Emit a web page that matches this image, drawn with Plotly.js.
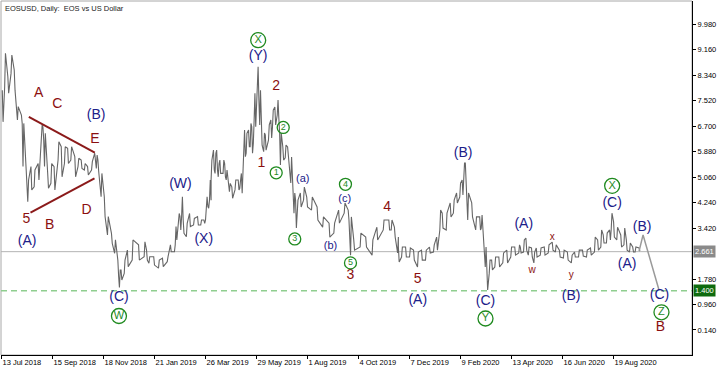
<!DOCTYPE html>
<html><head><meta charset="utf-8">
<script src="https://cdn.plot.ly/plotly-3.0.1.min.js"></script>
<style>html,body{margin:0;padding:0;background:#fff}#chart{width:720px;height:368px}</style>
</head><body><div id="chart"></div>
<script>
// ---- data (day = days since 13 Jul 2018) ----
const startDate = Date.UTC(2018, 6, 13);
const sampleDay = [1,4,8,12,16,20,25,27,31,33,37,41,46,50,52,54,58,62,66,71,75,79,83,87,92,96,100,104,108,113,117,119,121,125,129,133,138,142,146,148,150,154,158,
164,172,179,182,185,191,197,202,208,212,217,219,222,224,226,228,232,236,241,246,250,254,256,258,260,262,263,266,268,270,272,274,278,280,282,284,286,289,293,297,299,301,303,305,307,310,312,314,316,318,320,322,
324,326,329,331,335,338,340,343,346,348,350,353,356,359,363,365,367,369,371,375,379,383,389,396,403,411,417,423,430,435,438,442,450,457,465,471,479,486,
489,493,497,498,502,507,512,517,522,527,532,537,542,546,550,553,558,563,567,571,575,578,580,582,585,590,595,600,602,605,607,609,612,615,619,624,629,634,639,644,649,
651,655,658,661,665,668,671,676,681,686,691,695,700,705,710,715,719,724,729,734,739,744,748,752,755,759,763,765,768,772,777,781,784,788,792,795,800];
const sampleHigh = [7.86,9.05,8.29,8.99,8.51,7.33,7.06,6.79,5.29,4.97,5.40,5.29,5.50,6.74,6.68,6.47,5.18,5.50,5.40,6.20,6.04,6.04,5.99,6.04,5.72,5.67,5.61,5.50,5.40,5.56,5.83,5.77,5.61,5.18,4.43,3.79,3.25,3.04,2.39,2.07,2.07,2.39,2.71,
3.04,2.88,2.98,2.71,2.50,2.50,2.39,2.45,2.50,2.88,2.88,3.47,3.89,3.79,4.43,3.68,3.57,3.89,3.73,3.79,3.68,3.68,4.11,4.43,4.32,4.97,5.61,5.93,5.83,5.93,5.50,5.61,5.61,5.50,5.29,5.07,4.86,4.75,4.97,4.97,4.97,5.18,5.83,6.58,6.47,6.58,6.79,6.68,6.90,7.76,8.19,8.61,
7.86,6.90,6.48,6.42,6.74,6.90,7.22,7.32,7.54,6.96,6.48,6.03,6.09,6.03,5.71,4.87,4.55,4.32,4.32,4.55,4.74,4.42,4.42,4.10,3.78,3.58,3.58,4.00,4.23,4.00,3.78,3.04,3.26,3.13,3.04,3.45,3.68,3.68,
3.68,3.45,3.13,2.81,2.81,2.81,2.78,2.71,2.65,2.71,2.71,2.81,2.88,3.13,4.00,3.90,3.90,4.23,4.32,4.55,4.87,4.97,5.51,5.51,4.55,4.23,3.78,3.78,3.84,3.13,2.81,2.30,2.39,2.39,2.49,2.49,2.62,2.71,2.81,2.81,2.88,
2.81,3.04,3.10,2.81,2.78,2.65,2.78,2.78,2.81,2.88,2.97,2.88,2.71,2.71,2.65,2.55,2.65,2.71,2.71,2.71,2.78,3.13,3.04,3.36,3.20,3.26,3.36,3.90,3.62,3.45,3.20,3.42,3.04,2.94,2.81,2.81,2.78];
const sampleLow = [6.84,7.97,7.76,8.40,7.86,6.90,6.79,5.40,4.65,4.27,4.65,4.75,4.97,6.25,6.25,5.40,4.70,4.86,4.65,5.61,5.07,5.50,5.50,5.61,5.07,5.40,5.34,5.29,5.13,5.29,5.50,5.34,5.24,4.43,3.79,3.20,2.93,2.61,1.86,1.51,1.75,1.96,2.18,
2.39,2.39,2.50,2.39,2.29,2.23,2.13,2.18,2.34,2.66,2.66,3.04,3.47,3.36,3.79,3.25,3.14,3.47,3.52,3.52,3.52,3.57,3.68,4.11,4.06,4.32,4.97,5.29,5.18,5.29,5.07,5.18,5.18,5.07,4.97,4.75,4.59,4.38,4.65,4.65,4.70,4.54,5.18,5.72,5.83,6.04,6.04,5.83,6.15,6.68,7.44,7.54,
6.74,6.09,5.88,5.93,6.25,6.32,6.67,6.74,7.06,6.48,5.45,5.61,5.68,5.71,4.87,4.32,3.90,3.42,3.90,4.10,4.32,4.10,4.00,3.68,3.45,3.13,3.26,3.58,3.90,3.68,2.55,2.71,2.81,2.81,2.55,3.04,3.36,3.36,
3.36,3.13,2.62,2.33,2.49,2.49,2.49,2.39,2.17,2.39,2.39,2.62,2.65,2.71,3.36,3.42,3.36,3.78,3.90,4.23,4.42,4.49,5.06,4.74,3.68,3.78,3.36,3.36,3.42,2.81,2.17,1.43,1.97,2.07,2.17,2.17,2.30,2.30,2.49,2.55,2.62,
2.62,2.65,2.71,2.55,2.49,2.30,2.49,2.55,2.55,2.62,2.71,2.65,2.49,2.46,2.39,2.30,2.49,2.49,2.52,2.49,2.55,2.65,2.71,2.81,2.94,2.94,3.04,3.36,3.13,3.04,2.81,2.88,2.71,2.65,2.65,2.65,2.68];

const lastPrice = 2.661;
const supportLevel = 1.400;
const projDay = [800, 805, 825];
const projPrice = [2.68, 3.20, 1.43];
const triUpperDay = [34.3, 117.1], triUpperPrice = [7.00, 5.85];
const triLowerDay = [36.4, 116.7], triLowerPrice = [3.92, 5.02];

const xTickDates = ['2018-07-13','2018-09-15','2018-11-18','2019-01-21','2019-03-26','2019-05-29','2019-08-01','2019-10-04','2019-12-07','2020-02-09','2020-04-13','2020-06-16','2020-08-19'];
const xTickText = ['13 Jul 2018','15 Sep 2018','18 Nov 2018','21 Jan 2019','26 Mar 2019','29 May 2019','1 Aug 2019','4 Oct 2019','7 Dec 2019','9 Feb 2020','13 Apr 2020','16 Jun 2020','19 Aug 2020'];
const yTickVals = [0.14,0.96,1.78,3.42,4.24,5.06,5.88,6.70,7.52,8.34,9.16,9.98];

// wave labels by degree
const primaryText = ['(B)','(A)','(C)','(W)','(X)','(Y)','(A)','(B)','(C)','(A)','(B)','(C)','(B)','(A)','(C)'];
const primaryDay  = [118.8,32.2,147.4,224.6,253.8,322.1,522.3,579.3,607.3,655.3,714.8,766.2,803.9,785.1,825.6];
const primaryPrice= [7.03,2.98,1.17,4.81,3.04,8.94,1.10,5.83,1.05,3.52,1.21,4.20,3.45,2.26,1.24];
const interText = ['A','C','E','D','5','B','2','1','3','4','5','B'];
const interDay  = [46.8,69.9,117.1,106.6,31.4,60.6,344.7,326.2,437.9,483.9,522.3,826.9];
const interPrice= [7.76,7.40,6.28,4.00,3.71,3.50,7.97,5.50,1.88,4.07,1.75,0.22];
const minorText = ['(a)','(b)','(c)'];
const minorDay  = [378.0,412.8,430.7];
const minorPrice= [4.99,2.82,4.35];
const minuteText = ['w','x','y'];
const minuteDay  = [665.9,691.0,714.8];
const minutePrice= [2.05,3.11,1.91];
const cycleText = ['W','X','Y','X','Z'];
const cycleDay  = [147.4,322.1,607.3,766.2,828.1];
const cyclePrice= [0.59,9.47,0.51,4.78,0.71];
const subText = ['1','2','3','4','5'];
const subDay  = [344.7,353.5,368.0,431.6,437.9];
const subPrice= [5.20,6.66,3.07,4.83,2.30];

// ---- build ----
function toDate(d){ return new Date(startDate + d*86400000).toISOString().slice(0,19).replace('T',' '); }
const px = [], py = [];
sampleDay.forEach((d,i)=>{
  if (i % 2 === 0) { px.push(toDate(d)); py.push(sampleHigh[i]); px.push(toDate(d+1)); py.push(sampleLow[i]); }
  else { px.push(toDate(d)); py.push(sampleLow[i]); px.push(toDate(d+1)); py.push(sampleHigh[i]); }
});
const NAVY = '#1c2089', RED = '#8b0f0f', GREEN = '#1f8a1f';
const FONT = 'Liberation Sans, Arial, sans-serif';
function textTrace(t, d, p, size, color){
  return {type:'scatter', mode:'text', x:d.map(toDate), y:p, text:t, textposition:'middle center',
    textfont:{family:FONT, size:size, color:color}, cliponaxis:false, hoverinfo:'skip', showlegend:false};
}
function circTrace(t, d, p, msize, fsize){
  return {type:'scatter', mode:'markers+text', x:d.map(toDate), y:p, text:t, textposition:'middle center',
    marker:{symbol:'circle-open', size:msize, color:GREEN, line:{width:1.3, color:GREEN}},
    textfont:{family:FONT, size:fsize, color:GREEN}, cliponaxis:false, hoverinfo:'skip', showlegend:false};
}
const traces = [
  {type:'scatter', mode:'lines', x:px, y:py, line:{color:'#666666', width:1.1}, hoverinfo:'skip', showlegend:false},
  {type:'scatter', mode:'lines', x:projDay.map(toDate), y:projPrice, line:{color:'#9a9a9a', width:1.5}, hoverinfo:'skip', showlegend:false},
  {type:'scatter', mode:'lines', x:triUpperDay.map(toDate), y:triUpperPrice, line:{color:'#8b1a1a', width:2}, hoverinfo:'skip', showlegend:false},
  {type:'scatter', mode:'lines', x:triLowerDay.map(toDate), y:triLowerPrice, line:{color:'#8b1a1a', width:2}, hoverinfo:'skip', showlegend:false},
  textTrace(primaryText, primaryDay, primaryPrice, 14, NAVY),
  textTrace(interText, interDay, interPrice, 14, RED),
  textTrace(minorText, minorDay, minorPrice, 11, NAVY),
  textTrace(minuteText, minuteDay, minutePrice, 10, RED),
  circTrace(cycleText, cycleDay, cyclePrice, 15, 11),
  circTrace(subText, subDay, subPrice, 12, 9)
];
const tickFont = {family:FONT, size:7.5, color:'#000'};
const layout = {
  width:720, height:368, margin:{l:1, r:28, t:1, b:13},
  paper_bgcolor:'#fff', plot_bgcolor:'#fff', showlegend:false,
  xaxis:{type:'date', range:[toDate(-0.6), toDate(866.4)], tickvals:xTickDates, ticktext:xTickText, tickangle:0,
    ticks:'outside', ticklen:3, tickcolor:'#000', showgrid:false, zeroline:false, showline:true, linecolor:'#000', linewidth:1,
    ticklabelposition:'outside right', tickfont:tickFont, automargin:false, fixedrange:true},
  yaxis:{side:'right', range:[-0.665, 10.73], tickvals:yTickVals, tickformat:'.3f',
    ticks:'outside', ticklen:3, tickcolor:'#000', showgrid:false, zeroline:false, showline:true, linecolor:'#000', linewidth:1,
    tickfont:tickFont, automargin:false, fixedrange:true},
  shapes:[
    {type:'rect', xref:'paper', yref:'paper', x0:0, x1:1, y0:0, y1:1, line:{color:'#a8a8a8', width:1}, layer:'below'},
    {type:'line', xref:'paper', yref:'y', x0:0, x1:1, y0:lastPrice, y1:lastPrice, line:{color:'#b4b4b4', width:1}, layer:'below'},
    {type:'line', xref:'paper', yref:'y', x0:0, x1:1, y0:supportLevel, y1:supportLevel, line:{color:'#8fce8f', width:1.5, dash:'6px,4px'}, layer:'below'}
  ],
  annotations:[
    {xref:'paper', yref:'paper', x:0.003, y:0.997, xanchor:'left', yanchor:'top', showarrow:false,
      text:'EOSUSD, Daily:\u00a0 EOS vs US Dollar', font:{family:FONT, size:7.5, color:'#222'}},
    {xref:'paper', yref:'y', x:1, y:lastPrice, xanchor:'left', yanchor:'middle', xshift:1, showarrow:false,
      text:lastPrice.toFixed(3), bgcolor:'#8a8a8a', borderpad:1, font:{family:FONT, size:7.5, color:'#fff'}},
    {xref:'paper', yref:'y', x:1, y:supportLevel, xanchor:'left', yanchor:'middle', xshift:1, showarrow:false,
      text:supportLevel.toFixed(3), bgcolor:'#0e6b0e', borderpad:1, font:{family:FONT, size:7.5, color:'#fff'}}
  ]
};
Plotly.newPlot('chart', traces, layout, {staticPlot:true, displayModeBar:false});
</script></body></html>
